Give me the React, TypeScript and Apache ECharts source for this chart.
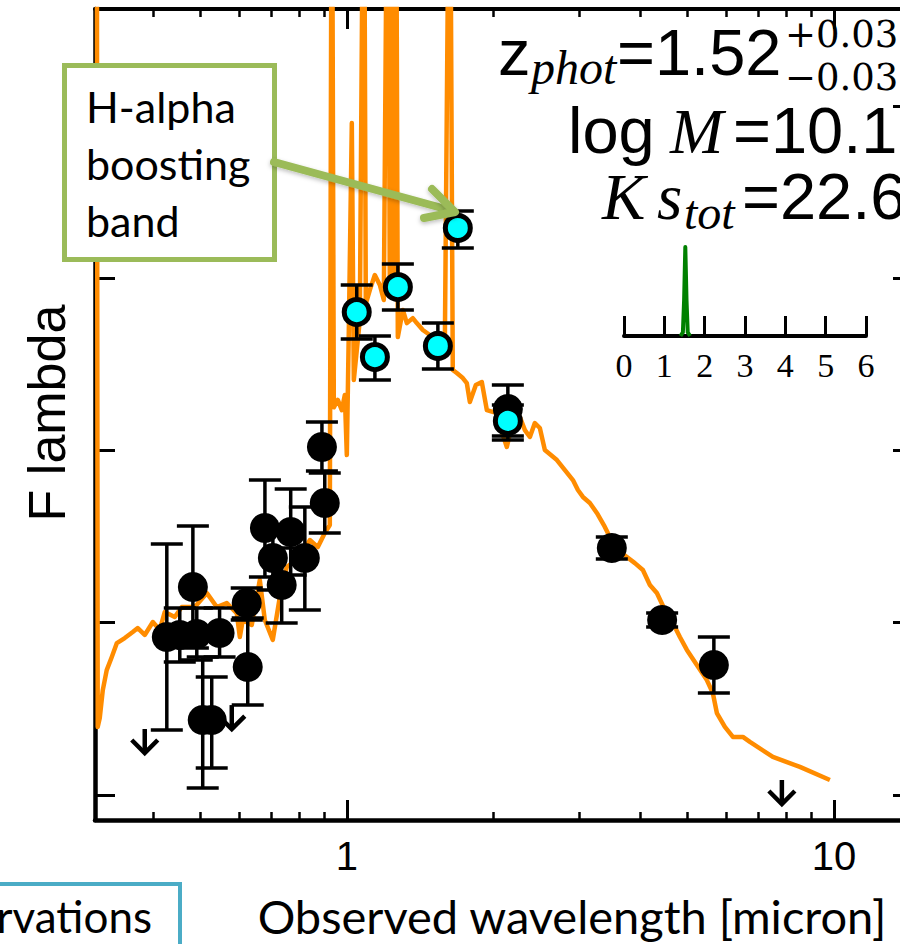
import { useEffect, useRef } from "react";
import * as echarts from "echarts";

// Best-fit model spectrum: observed wavelength [micron] and flux (log units)
const SPEC_WAVE = [
  0.3066, 0.308, 0.311, 0.3155, 0.3214, 0.3292, 0.3372, 0.35, 0.3635, 0.3722,
  0.3847, 0.3997, 0.413, 0.4228, 0.4434, 0.4583, 0.4875, 0.5161, 0.5409, 0.567,
  0.5942, 0.603, 0.6116, 0.6381, 0.6628, 0.6786, 0.7047, 0.7285, 0.7527, 0.8008,
  0.8395, 0.872, 0.9012, 0.9228, 0.9315, 0.9404, 0.9583, 0.9766, 0.9906, 1.0,
  1.0095, 1.0239, 1.0336, 1.0634, 1.0837, 1.0939, 1.1149, 1.1416, 1.1689, 1.1912,
  1.2139, 1.2255, 1.2372, 1.249, 1.2608, 1.2727, 1.3032, 1.3282, 1.366, 1.392,
  1.4324, 1.4805, 1.5303, 1.5892, 1.6267, 1.6502, 1.6821, 1.7305, 1.7635, 1.7889,
  1.8403, 1.8932, 1.9387, 2.0324, 2.0908, 2.1306, 2.1818, 2.2662, 2.3206, 2.3762,
  2.4322, 2.4906, 2.5503, 2.7, 2.8039, 2.9121, 2.9816, 3.053, 3.155, 3.2609,
  3.3707, 3.4677, 3.6019, 3.7584, 3.9033, 4.0537, 4.1902, 4.3313, 4.4978, 4.6711,
  4.8286, 4.9913, 5.2324, 5.4847, 5.6423, 5.7509, 5.9732, 6.2034, 6.5034, 6.7226,
  7.4936, 8.5153, 9.8129,
];
const SPEC_FLUX = [
  6.0, 0.395, 0.447, 0.609, 0.725, 0.801, 0.882, 0.911, 0.946, 0.969,
  0.929, 1.004, 0.958, 1.062, 1.033, 1.091, 1.091, 1.172, 1.091, 1.114,
  1.056, 0.917, 1.016, 0.987, 1.248, 1.016, 0.9, 1.149, 1.323, 1.381,
  1.48, 1.439, 1.521, 1.567, 6.0, 2.25, 2.293, 2.234, 2.322, 1.973,
  2.699, 3.9, 2.409, 2.757, 6.0, 2.85, 2.931, 3.018, 2.96, 2.873,
  6.0, 2.9, 6.0, 2.9, 6.0, 2.658, 2.815, 2.739, 2.768, 2.739,
  2.699, 2.67, 2.641, 2.594, 6.0, 2.467, 2.449, 2.42, 2.391, 2.281,
  2.38, 2.397, 2.234, 2.217, 2.089, 2.02, 2.147, 2.194, 2.118, 2.078,
  2.159, 2.13, 2.002, 1.944, 1.886, 1.828, 1.77, 1.73, 1.695, 1.637,
  1.567, 1.497, 1.422, 1.381, 1.346, 1.306, 1.219, 1.172, 1.074, 0.998,
  0.917, 0.842, 0.754, 0.667, 0.592, 0.476, 0.395, 0.337, 0.337, 0.308,
  0.221, 0.163, 0.087,
];

// Broad-band photometry (black) with flux errors
const PHOT_WAVE = [0.427, 0.454, 0.492, 0.483, 0.506, 0.528, 0.548, 0.623, 0.626, 0.679, 0.705, 0.735, 0.767, 0.82, 0.889, 0.901, 2.141, 3.5, 4.44, 5.67];
const PHOT_FLUX = [0.917, 0.929, 0.934, 1.207, 0.435, 0.435, 0.94, 1.114, 0.743, 1.55, 1.376, 1.219, 1.526, 1.376, 2.02, 1.695, 2.24, 1.434, 1.016, 0.754];
const PHOT_HI = [1.457, 1.085, 1.085, 1.561, 0.801, 0.685, 1.085, 1.201, 1.027, 1.828, 1.567, 1.434, 1.776, 1.672, 2.165, 1.869, 2.38, 1.497, 1.056, 0.917];
const PHOT_LO = [0.377, 0.772, 0.784, 0.853, 0.041, 0.157, 0.801, 1.016, 0.522, 1.265, 1.19, 0.998, 1.277, 1.074, 1.88, 1.521, 2.06, 1.37, 0.975, 0.592];

// Near-infrared bands (cyan)
const NIR_WAVE = [1.048, 1.142, 1.273, 1.538, 2.141, 1.69];
const NIR_FLUX = [2.803, 2.542, 2.948, 2.606, 2.171, 3.291];
const NIR_HI = [2.96, 2.664, 3.082, 2.739, 2.263, 3.389];
const NIR_LO = [2.647, 2.409, 2.815, 2.472, 2.084, 3.175];

// Upper limits (arrow tops)
const UL_WAVE = [0.3847, 0.5805, 7.82];
const UL_FLUX = [0.383, 0.522, 0.087];

// Photometric-redshift probability distribution
const PZ_Z = [1.4, 1.46, 1.49, 1.52, 1.55, 1.58, 1.64];
const PZ_P = [0, 0.04, 0.4, 1, 0.4, 0.04, 0];

// Axis ticks
const X_MINOR = [0.4, 0.5, 0.6, 0.7, 0.8, 0.9, 2, 3, 4, 5, 6, 7, 8, 9];
const X_MAJOR = [1, 10];
const Y_TICKS = [0, 1, 2, 3, 4];

const X_MIN = -0.517;
const X_MAX = 1.146;
const Y_MIN = -0.145;
const Y_MAX = 4.562;

const SANS = '"Liberation Sans", Arial, sans-serif';
const SERIF = '"Liberation Serif", "Times New Roman", serif';
const DSERIF = '"DejaVu Serif", serif';
const LATO = 'Lato, "Open Sans", sans-serif';
const ORANGE = "#ff8c00";
const GREEN = "#9bbb59";

const lg = (v: number) => Math.log10(v);

function errorBars(api: any, color: string) {
  const x = api.value(0);
  const pLo = api.coord([x, api.value(2)]);
  const pHi = api.coord([x, api.value(3)]);
  const hw = 16;
  const style = { stroke: color, lineWidth: 3.5 };
  return {
    type: "group",
    children: [
      { type: "line", shape: { x1: pLo[0], y1: pLo[1], x2: pHi[0], y2: pHi[1] }, style },
      { type: "line", shape: { x1: pLo[0] - hw, y1: pLo[1], x2: pLo[0] + hw, y2: pLo[1] }, style },
      { type: "line", shape: { x1: pHi[0] - hw, y1: pHi[1], x2: pHi[0] + hw, y2: pHi[1] }, style },
    ],
  };
}

function buildOption() {
  const spec = SPEC_WAVE.map((w, i) => [lg(w), SPEC_FLUX[i]]);
  const photErr = PHOT_WAVE.map((w, i) => [lg(w), PHOT_FLUX[i], PHOT_LO[i], PHOT_HI[i]]);
  const nirErr = NIR_WAVE.map((w, i) => [lg(w), NIR_FLUX[i], NIR_LO[i], NIR_HI[i]]);
  const phot = PHOT_WAVE.map((w, i) => [lg(w), PHOT_FLUX[i]]);
  const nir = NIR_WAVE.map((w, i) => [lg(w), NIR_FLUX[i]]);
  const limits = UL_WAVE.map((w, i) => [lg(w), UL_FLUX[i]]);
  const pz = PZ_Z.map((z, i) => [z, PZ_P[i]]);

  const baseX = {
    type: "value",
    gridIndex: 0,
    min: X_MIN,
    max: X_MAX,
    splitLine: { show: false },
    axisLabel: { show: false },
  };
  const baseY = {
    type: "value",
    gridIndex: 0,
    min: Y_MIN,
    max: Y_MAX,
    splitLine: { show: false },
    axisLabel: { show: false },
  };

  const text = (t: string, x: number, y: number, size: number, family: string, style = "normal", align = "left") => ({
    type: "text",
    x,
    y,
    z: 100,
    style: {
      text: t,
      fontSize: size,
      fontFamily: family,
      fontStyle: style,
      lineHeight: Math.round(size * 0.82),
      fill: "#000",
      align,
      verticalAlign: "middle",
    },
  });

  return {
    animation: false,
    backgroundColor: "#fff",
    grid: [
      { left: 95, top: 9, width: 810, height: 811 },
      { left: 624, top: 247, width: 242, height: 89 },
    ],
    xAxis: [
      {
        ...baseX,
        position: "bottom",
        axisLine: { show: true, onZero: false, lineStyle: { color: "#000", width: 4.5 } },
        axisTick: { show: true, inside: true, length: 8, lineStyle: { color: "#000", width: 2.5 }, customValues: X_MINOR.map(lg) },
      },
      {
        ...baseX,
        position: "bottom",
        axisLine: { show: false, onZero: false },
        axisTick: { show: true, inside: true, length: 20, lineStyle: { color: "#000", width: 3 }, customValues: X_MAJOR.map(lg) },
        axisLabel: {
          show: true,
          customValues: X_MAJOR.map(lg),
          formatter: (v: number) => String(Math.round(Math.pow(10, v))),
          fontFamily: SANS,
          fontSize: 40,
          color: "#000",
          margin: 16,
        },
      },
      {
        ...baseX,
        position: "top",
        axisLine: { show: true, onZero: false, lineStyle: { color: "#000", width: 4 } },
        axisTick: { show: true, inside: true, length: 8, lineStyle: { color: "#000", width: 2.5 }, customValues: X_MINOR.map(lg) },
      },
      {
        ...baseX,
        position: "top",
        axisLine: { show: false, onZero: false },
        axisTick: { show: true, inside: true, length: 20, lineStyle: { color: "#000", width: 3 }, customValues: X_MAJOR.map(lg) },
      },
      {
        type: "value",
        gridIndex: 1,
        min: 0,
        max: 6,
        interval: 1,
        position: "bottom",
        splitLine: { show: false },
        axisLine: { show: true, onZero: false, lineStyle: { color: "#000", width: 4 } },
        axisTick: { show: true, inside: true, length: 20, lineStyle: { color: "#000", width: 3 } },
        axisLabel: { show: true, fontFamily: SERIF, fontSize: 34, color: "#000", margin: 12 },
      },
    ],
    yAxis: [
      {
        ...baseY,
        position: "left",
        axisLine: { show: true, onZero: false, lineStyle: { color: "#000", width: 4.5 } },
        axisTick: { show: true, inside: true, length: 20, lineStyle: { color: "#000", width: 3 }, customValues: Y_TICKS },
      },
      {
        ...baseY,
        position: "right",
        axisLine: { show: true, onZero: false, lineStyle: { color: "#000", width: 4.5 } },
        axisTick: { show: true, inside: true, length: 12, lineStyle: { color: "#000", width: 3 }, customValues: Y_TICKS },
      },
      { type: "value", gridIndex: 1, min: 0, max: 1, show: false },
    ],
    series: [
      {
        name: "model",
        type: "line",
        xAxisIndex: 0,
        yAxisIndex: 0,
        data: spec,
        showSymbol: false,
        clip: true,
        z: 2,
        lineStyle: { color: ORANGE, width: 4.5, join: "round" },
      },
      {
        name: "photometry errors",
        type: "custom",
        xAxisIndex: 0,
        yAxisIndex: 0,
        data: photErr,
        encode: { x: 0, y: 1 },
        z: 3,
        renderItem: (_p: any, api: any) => errorBars(api, "#000"),
      },
      {
        name: "upper limits",
        type: "custom",
        xAxisIndex: 0,
        yAxisIndex: 0,
        data: limits,
        encode: { x: 0, y: 1 },
        z: 3,
        renderItem: (_p: any, api: any) => {
          const p = api.coord([api.value(0), api.value(1)]);
          const style = { stroke: "#000", lineWidth: 4.5, fill: null, lineJoin: "miter" };
          return {
            type: "group",
            children: [
              { type: "line", shape: { x1: p[0], y1: p[1], x2: p[0], y2: p[1] + 24 }, style },
              {
                type: "polyline",
                shape: { points: [[p[0] - 13, p[1] + 11], [p[0], p[1] + 24], [p[0] + 13, p[1] + 11]] },
                style,
              },
            ],
          };
        },
      },
      {
        name: "photometry",
        type: "scatter",
        xAxisIndex: 0,
        yAxisIndex: 0,
        data: phot,
        symbol: "circle",
        symbolSize: 30,
        z: 4,
        itemStyle: { color: "#000", opacity: 1 },
      },
      {
        name: "near-IR errors",
        type: "custom",
        xAxisIndex: 0,
        yAxisIndex: 0,
        data: nirErr,
        encode: { x: 0, y: 1 },
        z: 5,
        renderItem: (_p: any, api: any) => errorBars(api, "#000"),
      },
      {
        name: "near-IR",
        type: "scatter",
        xAxisIndex: 0,
        yAxisIndex: 0,
        data: nir,
        symbol: "circle",
        symbolSize: 25,
        z: 6,
        itemStyle: { color: "#00ffff", borderColor: "#000", borderWidth: 5, opacity: 1 },
      },
      {
        name: "P(z)",
        type: "line",
        xAxisIndex: 4,
        yAxisIndex: 2,
        data: pz,
        showSymbol: false,
        z: 3,
        lineStyle: { color: "#008000", width: 4, join: "round" },
      },
    ],
    graphic: [
      // Annotation box with arrow
      {
        type: "rect",
        z: 100,
        shape: { x: 64.5, y: 65.5, width: 210, height: 194 },
        style: { fill: "#fff", stroke: GREEN, lineWidth: 5 },
      },
      text("H-alpha", 86, 106, 43, LATO),
      text("boosting", 86, 163, 43, LATO),
      text("band", 86, 220, 43, LATO),
      {
        type: "line",
        z: 101,
        shape: { x1: 274, y1: 162, x2: 453, y2: 211 },
        style: { stroke: GREEN, lineWidth: 8, lineCap: "round", shadowBlur: 4, shadowColor: "rgba(0,0,0,0.25)", shadowOffsetY: 2 },
      },
      {
        type: "polyline",
        z: 101,
        shape: { points: [[432, 189], [455, 212], [424, 218]] },
        style: { stroke: GREEN, lineWidth: 8, lineCap: "round", lineJoin: "round", fill: null, shadowBlur: 4, shadowColor: "rgba(0,0,0,0.25)", shadowOffsetY: 2 },
      },
      // Fit summary
      text("z", 498, 52, 65, SANS),
      text("phot", 531, 67, 48, SERIF, "italic"),
      text("=1.52", 617, 52, 65, SANS),
      text("+0.03", 785, 34, 37, DSERIF),
      text("\u22120.03", 785, 77, 37, DSERIF),
      text("log", 568, 130, 65, SANS),
      text("M", 670, 131, 64, SERIF, "italic"),
      text("=10.1", 733, 130, 65, SANS),
      text("K", 602, 197, 65, SERIF, "italic"),
      text("s", 657, 197, 65, SERIF, "italic"),
      text("tot", 684, 212, 48, SERIF, "italic"),
      text("=22.6", 742, 196, 65, SANS),
      // Axis titles
      {
        type: "text",
        x: 47,
        y: 413,
        rotation: Math.PI / 2,
        z: 100,
        style: { text: "F lambda", fontSize: 52, fontFamily: SANS, fill: "#000", align: "center", verticalAlign: "middle" },
      },
      text("Observed wavelength [micron]", 572, 916, 47, LATO, "normal", "center"),
      // Legend box, partly outside the frame
      {
        type: "rect",
        z: 100,
        shape: { x: -20, y: 884, width: 200, height: 100 },
        style: { fill: "#fff", stroke: "#4bacc6", lineWidth: 4 },
      },
      text("Observations", 152, 916, 44, LATO, "normal", "right"),
    ],
  };
}

export default function App() {
  const ref = useRef<HTMLDivElement>(null);
  useEffect(() => {
    if (!ref.current) return;
    const chart = echarts.init(ref.current, undefined, { renderer: "svg" });
    chart.setOption(buildOption() as any);
    return () => chart.dispose();
  }, []);
  return (
    <div
      style={{
        position: "fixed",
        left: 0,
        top: 0,
        width: 900,
        height: 944,
        overflow: "hidden",
        background: "#fff",
      }}
    >
      <div ref={ref} style={{ width: 920, height: 944 }} />
    </div>
  );
}
